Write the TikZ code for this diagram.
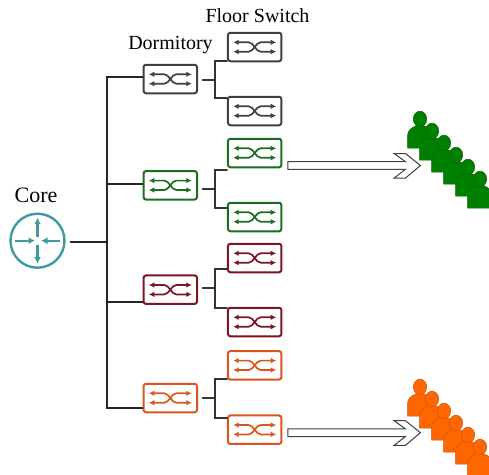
\documentclass[tikz,border=0pt]{standalone}
\usepackage{fontspec}
\setmainfont{Liberation Serif}
\usetikzlibrary{arrows.meta}
\definecolor{netgrey}{HTML}{404040}
\definecolor{netgreen}{HTML}{1B6E20}
\definecolor{netred}{HTML}{7D1420}
\definecolor{netorange}{HTML}{D9561F}
\definecolor{netteal}{HTML}{3F9AA2}
\definecolor{crowdgreen}{HTML}{008000}
\definecolor{crowdorange}{HTML}{FF6600}
\definecolor{crowdedge}{HTML}{C9540F}
\newcommand{\switchnode}[4]{%
  \begin{scope}[shift={(#2,-#3)}]
    \node[switchbox, draw=#4] (#1) at (0,0) {};
    \draw[switchline, draw=#4] (-21.5,4.7) -- (-6,4.7) .. controls (-1,4.7) and (1,-4.7) .. (6,-4.7) -- (21.5,-4.7);
    \draw[switchline, draw=#4] (-21.5,-4.7) -- (-6,-4.7) .. controls (-1,-4.7) and (1,4.7) .. (6,4.7) -- (21.5,4.7);
  \end{scope}
}
\newcommand{\floorlinks}[7]{%
  \coordinate (#1stub) at (202.7,-#4);
  \coordinate (#1fa) at (215,-#5);
  \coordinate (#1fb) at (215,-#6);
  \draw[wire, draw=#7] (#1stub) -- (#1stub -| #1fa);
  \draw[wire, draw=#7] (#2.west |- #1fa) -- (#1fa) -- (#1fb) -- (#3.west |- #1fb);
}
\newcommand{\person}[2]{%
  \path[personbody, shift={(#1,-#2)}] (-12.5,-29) -- (-12.5,-19) .. controls (-12.5,-10) and (-9,-9.5) .. (-3.5,-6.5) -- (3.5,-6.5) .. controls (9,-9.5) and (12.5,-10) .. (12.5,-19) -- (12.5,-29) -- cycle;
  \path[personbody, shift={(#1,-#2)}] (0,0) ellipse (6.7 and 7.8);
}
\newcommand{\crowd}[2]{%
  \foreach \n in {0,...,5}{%
    \person{\the\numexpr #1+12*\n\relax}{\the\numexpr #2+12*\n\relax}
  }
}
\newcommand{\hollowarrow}[1]{%
  \draw[hollowtip, shift={(#1)}] (5.3,3.8) -- (123,3.8) -- (111.7,12) -- (123,12) -- (138,0) -- (123,-12.6) -- (111.7,-12.6) -- (123,-3.8) -- (5.3,-3.8) -- cycle;
}

\begin{document}
\begin{tikzpicture}[x=1pt, y=1pt,
  switchbox/.style={rectangle, rounded corners=2.5pt, line width=2pt, minimum width=53.5pt, minimum height=28.5pt, inner sep=0pt, fill=white},
  switchline/.style={line width=1.7pt, {Latex[length=5.5pt,width=5.5pt]}-{Latex[length=5.5pt,width=5.5pt]}},
  wire/.style={line width=2pt, line cap=round},
  corearm/.style={draw=netteal, line width=2.2pt, -{Latex[length=6.5pt,width=7pt]}},
  labeltext/.style={font=\fontsize{20}{24}\selectfont, text=black, inner sep=0pt},
  hollowtip/.style={draw=netgrey, line width=1pt, fill=white, line join=miter},
  personbody/.style={line width=0.5pt}]

  \useasboundingbox (0,0) rectangle (489,-474);
  \clip (0,0) rectangle (489,-474);

  %% Labels
  \node[labeltext] (floorlabel) at (257.5,-16) {Floor Switch};
  \node[labeltext] (dormlabel) at (170.5,-45) {Dormitory};
  \node[labeltext, font=\fontsize{22}{26}\selectfont] (corelabel) at (36,-195) {Core};

  %% Core router
  \node[circle, draw=netteal, line width=2.4pt, minimum size=54pt, inner sep=0pt] (core) at (37.5,-240.7) {};
  \draw[corearm] ([xshift=-22.5pt]core.center) -- ([xshift=-2.5pt]core.center);
  \draw[corearm] ([xshift=22.5pt]core.center) -- ([xshift=3.5pt]core.center);
  \draw[corearm] ([yshift=4pt]core.center) -- ([yshift=23pt]core.center);
  \draw[corearm] ([yshift=-4pt]core.center) -- ([yshift=-23pt]core.center);

  %% Dormitory switches
  \switchnode{dormA}{170.3}{79}{netgrey}
  \switchnode{dormB}{170.3}{185.3}{netgreen}
  \switchnode{dormC}{170.3}{289.7}{netred}
  \switchnode{dormD}{170.3}{398}{netorange}

  %% Floor switches
  \switchnode{floorAa}{254.7}{47}{netgrey}
  \switchnode{floorAb}{254.7}{111}{netgrey}
  \switchnode{floorBa}{254.7}{153}{netgreen}
  \switchnode{floorBb}{254.7}{217}{netgreen}
  \switchnode{floorCa}{254.7}{258}{netred}
  \switchnode{floorCb}{254.7}{322}{netred}
  \switchnode{floorDa}{254.7}{365.3}{netorange}
  \switchnode{floorDb}{254.7}{429.7}{netorange}

  %% Trunk
  \coordinate (trunkA) at (106.5,-77);
  \coordinate (trunkB) at (106.5,-183.5);
  \coordinate (trunkC) at (106.5,-301.5);
  \coordinate (trunkD) at (106.5,-407.5);
  \coordinate (corestub) at (70.5,-242.3);
  \draw[wire, black!85] (corestub) -- (corestub -| trunkA);
  \draw[wire, black!85] (dormA.west |- trunkA) -- (trunkA) -- (trunkD) -- (dormD.west |- trunkD);
  \draw[wire, black!85] (trunkB) -- (dormB.west |- trunkB);
  \draw[wire, black!85] (trunkC) -- (dormC.west |- trunkC);

  %% Forks
  \floorlinks{dormA}{floorAa}{floorAb}{80}{61}{98}{black!80}
  \floorlinks{dormB}{floorBa}{floorBb}{189}{170}{208}{black!80}
  \floorlinks{dormC}{floorCa}{floorCb}{287.7}{269}{307.7}{black!80}
  \floorlinks{dormD}{floorDa}{floorDb}{398}{379.3}{417.7}{black!80}

  %% Big arrows
  \hollowarrow{floorBa.east |- 0,-165.5}
  \hollowarrow{floorDb.east |- 0,-432.7}

  %% Crowds
  \begin{scope}[personbody/.append style={fill=crowdgreen, draw=crowdgreen!80!black}]
    \crowd{420}{119}
  \end{scope}
  \begin{scope}[personbody/.append style={fill=crowdorange, draw=crowdedge}]
    \crowd{420}{387}
  \end{scope}

\end{tikzpicture}
\end{document}
